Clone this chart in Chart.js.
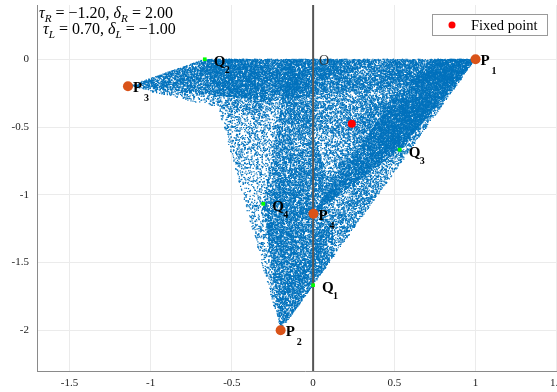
<!DOCTYPE html>
<html>
<head>
<meta charset="utf-8">
<script src="https://cdn.jsdelivr.net/npm/chart.js@4.4.1/dist/chart.umd.min.js"></script>
<style>
  html, body { margin: 0; padding: 0; background: #fff; overflow: hidden; }
  #wrap { position: absolute; left: 0; top: 0; width: 578px; height: 392px; }
</style>
</head>
<body>
<div id="wrap"><canvas id="bcnf" width="578" height="392"></canvas></div>
<script>
// map parameters (as printed in the top-left corner)
const tauR = -1.2, deltaR = 2.0;
const tauL = 0.7, deltaL = -1.0;
const mu = 1;

// marked points
const fixedPoint = [[0.238, -0.476]];
const pPoints = [[1, 0], [-0.2, -2], [-1.14, -0.2], [0.002, -1.14]];
const pNames = ['1', '2', '3', '4'];
const qPoints = [[0, -1.667], [-0.667, 0], [0.533, -0.667], [-0.307, -1.067]];
const qNames = ['1', '2', '3', '4'];
const xTicks = [-1.5, -1, -0.5, 0, 0.5, 1, 1.5];
const yTicks = [-2, -1.5, -1, -0.5, 0];

// orbit of the border-collision normal form map
function orbit(n) {
  let x = 0.1, y = -0.5;
  const pts = [];
  for (let i = 0; i < n + 200; i++) {
    const t = x <= 0 ? tauL : tauR;
    const d = x <= 0 ? deltaL : deltaR;
    const nx = t * x + y + mu;
    const ny = -d * x;
    x = nx; y = ny;
    if (Math.abs(x) > 50) break;
    if (i >= 200) pts.push({ x: x, y: y });
  }
  return pts;
}

const toXY = (arr) => arr.map((p) => ({ x: p[0], y: p[1] }));
const serif = '"Liberation Serif", "DejaVu Serif", serif';

// text with italic letters and subscripts
function drawRuns(ctx, runs, x, y, size) {
  runs.forEach((r) => {
    const fs = r.sub ? size * 0.7 : size;
    ctx.font = (r.it ? 'italic ' : '') + fs + 'px ' + serif;
    ctx.fillText(r.t, x, r.sub ? y + size * 0.22 : y);
    x += ctx.measureText(r.t).width;
  });
}

const overlay = {
  id: 'overlay',
  afterDatasetsDraw(chart) {
    const ctx = chart.ctx;
    const xs = chart.scales.x, ys = chart.scales.y;
    ctx.save();
    ctx.fillStyle = '#000';
    ctx.textBaseline = 'alphabetic';

    // point labels
    pPoints.forEach((p, i) => {
      const px = xs.getPixelForValue(p[0]), py = ys.getPixelForValue(p[1]);
      ctx.font = 'bold 15px ' + serif;
      ctx.fillText('P', px + 5, py + 6);
      ctx.font = 'bold 10px ' + serif;
      ctx.fillText(pNames[i], px + 16, py + 15);
    });
    qPoints.forEach((p, i) => {
      const px = xs.getPixelForValue(p[0]), py = ys.getPixelForValue(p[1]);
      ctx.font = 'bold 15px ' + serif;
      ctx.fillText('Q', px + 9, py + 7);
      ctx.font = 'bold 10px ' + serif;
      ctx.fillText(qNames[i], px + 20, py + 14);
    });
    ctx.font = '14px ' + serif;
    ctx.fillStyle = '#333';
    ctx.fillText('O', xs.getPixelForValue(0) + 6, ys.getPixelForValue(0) + 6);

    // parameters
    ctx.fillStyle = '#000';
    drawRuns(ctx, [
      { t: 'τ', it: true }, { t: 'R', it: true, sub: true }, { t: ' = −1.20, ' },
      { t: 'δ', it: true }, { t: 'R', it: true, sub: true }, { t: ' = 2.00' }
    ], 39, 18, 16);
    drawRuns(ctx, [
      { t: 'τ', it: true }, { t: 'L', it: true, sub: true }, { t: ' = 0.70, ' },
      { t: 'δ', it: true }, { t: 'L', it: true, sub: true }, { t: ' = −1.00' }
    ], 43, 34, 16);

    // legend
    ctx.fillStyle = '#fff';
    ctx.fillRect(432, 14, 115, 21);
    ctx.strokeStyle = '#9a9a9a';
    ctx.lineWidth = 1;
    ctx.strokeRect(432.5, 14.5, 115, 21);
    ctx.fillStyle = '#ff0000';
    ctx.beginPath();
    ctx.arc(452, 25, 3.5, 0, Math.PI * 2);
    ctx.fill();
    ctx.fillStyle = '#000';
    ctx.font = '14.5px ' + serif;
    ctx.fillText('Fixed point', 471, 30);
    ctx.restore();
  }
};

new Chart(document.getElementById('bcnf'), {
  type: 'scatter',
  data: {
    datasets: [
      {
        label: 'Fixed point',
        data: toXY(fixedPoint),
        backgroundColor: '#ff0000',
        borderWidth: 0,
        pointRadius: 4,
        order: 0
      },
      {
        label: 'P',
        data: toXY(pPoints),
        backgroundColor: '#d95319',
        borderWidth: 0,
        pointRadius: 5,
        order: 0
      },
      {
        label: 'Q',
        data: toXY(qPoints),
        backgroundColor: '#00ff00',
        borderWidth: 0,
        pointStyle: 'rect',
        pointRadius: 2.6,
        order: 0
      },
      {
        label: 'x = 0',
        type: 'line',
        data: [{ x: 0, y: -2.3 }, { x: 0, y: 0.4 }],
        borderColor: '#555555',
        borderWidth: 2,
        pointRadius: 0,
        order: 1
      },
      {
        label: 'orbit',
        data: orbit(40000),
        backgroundColor: '#0072bd',
        borderWidth: 0,
        pointStyle: 'rect',
        pointRadius: 0.85,
        order: 2
      }
    ]
  },
  options: {
    responsive: false,
    animation: false,
    events: [],
    layout: { padding: { top: 5, right: 0, left: 0, bottom: 0 } },
    plugins: { legend: { display: false }, tooltip: { enabled: false } },
    scales: {
      x: {
        type: 'linear',
        min: -1.7,
        max: 1.6,
        afterFit: (s) => { s.height = 21; s.paddingLeft = 0; s.paddingRight = 0; },
        afterBuildTicks: (s) => { s.ticks = xTicks.map((v) => ({ value: v })); },
        grid: { color: '#ebebeb', drawTicks: false },
        border: { color: '#8a8a8a', width: 1 },
        ticks: {
          padding: 6,
          color: '#222',
          font: { family: serif, size: 11 },
          callback: (v) => String(v)
        }
      },
      y: {
        type: 'linear',
        min: -2.3,
        max: 0.4,
        afterFit: (s) => { s.width = 37; s.paddingTop = 0; s.paddingBottom = 0; },
        afterBuildTicks: (s) => { s.ticks = yTicks.map((v) => ({ value: v })); },
        grid: { color: '#ebebeb', drawTicks: false },
        border: { color: '#8a8a8a', width: 1 },
        ticks: {
          padding: 8,
          color: '#222',
          font: { family: serif, size: 11 },
          callback: (v) => String(v)
        }
      }
    }
  },
  plugins: [overlay]
});
</script>
</body>
</html>
